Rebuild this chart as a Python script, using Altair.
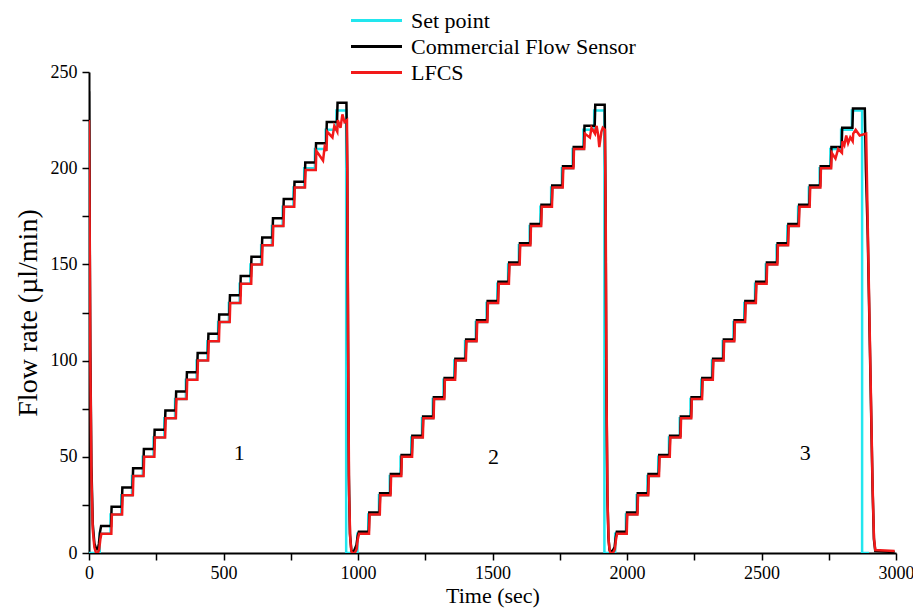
import altair as alt
import pandas as pd

# ---------------- data ----------------
SERIES = ["Set point", "Commercial Flow Sensor", "LFCS"]
COLORS = ["#22e6ee", "#000000", "#f21a1a"]

# start time of each setpoint step inside a cycle (s)
STEP_OFFSETS = [0, 40, 80, 120, 160, 200, 240, 280, 320, 360, 400, 440,
                480, 520, 560, 600, 640, 680, 720, 760, 800, 840, 880, 920]
CYCLE_STARTS = [0, 958, 1916]
CYCLE_DROPS = [956, 1916, 2874]

SET_LEVELS = [0, 10, 20, 30, 40, 50, 60, 70, 80, 90, 100, 110,
              120, 130, 140, 150, 160, 170, 180, 190, 200, 210, 220, 230]

# Commercial flow sensor level on each step, per cycle
CFS_C1 = [0, 14, 24, 34, 44, 54, 64, 74, 84, 94, 104, 114,
          124, 134, 144, 154, 164, 174, 184, 193, 203, 213, 224, 234]
CFS_C2 = [0, 11, 21, 31, 41, 51, 61, 71, 81, 91, 101, 111,
          121, 131, 141, 151, 161, 171, 181, 191, 201, 211, 222, 233]
CFS_C3 = [0, 11, 21, 31, 41, 51, 61, 71, 81, 91, 101, 111,
          121, 131, 141, 151, 161, 171, 181, 191, 201, 211, 221, 231]

# LFCS level on each step, per cycle
LFCS_C1 = [0, 10, 20, 30, 40, 50, 60, 70, 80, 90, 100, 110,
           120, 130, 140, 150, 160, 170, 180, 190, 199, 209, 219, 225]
LFCS_C2 = [0, 10, 20, 30, 40, 50, 60, 70, 80, 90, 100, 110,
           120, 130, 140, 150, 160, 170, 180, 190, 200, 210, 218, 220]
LFCS_C3 = [0, 10, 20, 30, 40, 50, 60, 70, 80, 90, 100, 110,
           120, 130, 140, 150, 160, 170, 180, 190, 200, 208, 214, 218]

# transient at the start of each cycle (until the first step is reached)
CFS_HEAD_T = [[0, 2, 5, 9, 14, 20, 27, 33, 37, 41, 45],
              [976, 985, 994, 999, 1003],
              [1938, 1946, 1954, 1958, 1962]]
CFS_HEAD_V = [[240, 185, 105, 45, 15, 5, 2, 2, 5, 11, 14],
              [1, 1, 4, 9, 11],
              [1, 1, 3, 8, 11]]
LFCS_HEAD_T = [[0, 2, 5, 9, 14, 20, 26, 33, 38, 42, 46],
               [978, 988, 995, 999, 1004],
               [1938, 1948, 1955, 1959, 1963]]
LFCS_HEAD_V = [[225, 180, 100, 40, 12, 3, 0, 0, 2, 7, 10],
               [0, 0, 2, 7, 10],
               [0, 0, 2, 7, 10]]

# fall at the end of each cycle
CFS_TAIL_T = [[957, 960, 963, 966, 970, 975],
              [1917, 1920, 1923, 1927, 1931, 1935],
              [2884, 2888, 2895, 2905, 2913, 2918, 2923, 2995]]
CFS_TAIL_V = [[234, 200, 110, 40, 10, 2],
              [233, 185, 95, 30, 8, 1.5],
              [231, 200, 165, 92, 33, 7, 1, 0.5]]
LFCS_TAIL_T = [[959, 961, 964, 967, 971, 975],
               [1918, 1921, 1924, 1928, 1932, 1936],
               [2889, 2895, 2905, 2913, 2918, 2923, 2995]]
LFCS_TAIL_V = [[225, 180, 90, 30, 8, 1],
               [220, 170, 80, 25, 6, 1],
               [218, 170, 95, 35, 8, 1.5, 1]]

# noisy LFCS readings near the top of each ramp
LFCS_NOISE_T = [870, 876, 905, 912, 935, 942, 950,
                1862, 1868, 1887, 1893, 1897, 1905, 1910,
                2775, 2785, 2808, 2815, 2822, 2830, 2850, 2865]
LFCS_NOISE_V = [204, 211, 216, 222, 221, 228, 224,
                216, 221, 222, 217, 211, 219, 221,
                205, 210, 212, 217, 213, 216, 220, 217]

CYCLE_LABELS = ["1", "2", "3"]
CYCLE_LABEL_T = [559, 1504, 2663]
CYCLE_LABEL_V = [52, 50, 52]

# ---------------- build tables ----------------
set_rows = []
for c, start in enumerate(CYCLE_STARTS):
    for off, lev in zip(STEP_OFFSETS, SET_LEVELS):
        set_rows.append((start + off, lev))
    set_rows.append((CYCLE_DROPS[c], 0))
set_rows.append((2900, 0))
set_df = pd.DataFrame(set_rows, columns=["t", "v"]).sort_values("t")
set_df["series"] = SERIES[0]


def sensor_table(levels, head_t, head_v, tail_t, tail_v, lag, rise,
                 extra_t=(), extra_v=()):
    rows = []
    for c, start in enumerate(CYCLE_STARTS):
        rows += list(zip(head_t[c], head_v[c]))
        lv = levels[c]
        for k in range(2, len(STEP_OFFSETS)):
            tk = start + STEP_OFFSETS[k] + lag
            rows.append((tk, lv[k - 1]))
            rows.append((tk + rise, lv[k]))
        rows += list(zip(tail_t[c], tail_v[c]))
    rows += list(zip(extra_t, extra_v))
    return pd.DataFrame(rows, columns=["t", "v"]).sort_values("t")


cfs_df = sensor_table([CFS_C1, CFS_C2, CFS_C3], CFS_HEAD_T, CFS_HEAD_V,
                      CFS_TAIL_T, CFS_TAIL_V, lag=2, rise=2)
cfs_df["series"] = SERIES[1]
lfcs_df = sensor_table([LFCS_C1, LFCS_C2, LFCS_C3], LFCS_HEAD_T, LFCS_HEAD_V,
                       LFCS_TAIL_T, LFCS_TAIL_V, lag=3, rise=2,
                       extra_t=LFCS_NOISE_T, extra_v=LFCS_NOISE_V)
lfcs_df["series"] = SERIES[2]

labels_df = pd.DataFrame({"t": CYCLE_LABEL_T, "v": CYCLE_LABEL_V,
                          "txt": CYCLE_LABELS})

# ---------------- chart ----------------
FONT = "Liberation Serif"

x_enc = alt.X("t:Q",
              scale=alt.Scale(domain=[0, 3000], nice=False, zero=False),
              axis=alt.Axis(title="Time (sec)",
                            values=list(range(0, 3001, 250)),
                            labelExpr="datum.value % 500 === 0 ? datum.label : ''",
                            format="d"))
y_enc = alt.Y("v:Q",
              scale=alt.Scale(domain=[0, 250], nice=False),
              axis=alt.Axis(title="Flow rate (µl/min)",
                            values=list(range(0, 251, 25)),
                            labelExpr="datum.value % 50 === 0 ? datum.label : ''",
                            format="d"))
color_enc = alt.Color("series:N",
                      scale=alt.Scale(domain=SERIES, range=COLORS),
                      legend=alt.Legend(title=None, orient="none",
                                        legendX=273, legendY=-66,
                                        symbolType="M-2,0H2", symbolSize=650,
                                        symbolStrokeWidth=3,
                                        labelFont=FONT, labelFontSize=22,
                                        labelColor="black", labelLimit=0,
                                        labelOffset=20, rowPadding=0,
                                        padding=0))

set_line = alt.Chart(set_df).mark_line(
    strokeWidth=2.5, interpolate="step-after", clip=True
).encode(x=x_enc, y=y_enc, color=color_enc)

cfs_line = alt.Chart(cfs_df).mark_line(strokeWidth=2.5, clip=True).encode(
    x=x_enc, y=y_enc, color=color_enc)

lfcs_line = alt.Chart(lfcs_df).mark_line(strokeWidth=2.5, clip=True).encode(
    x=x_enc, y=y_enc, color=color_enc)

text = alt.Chart(labels_df).mark_text(
    font=FONT, fontSize=22, color="black"
).encode(x="t:Q", y="v:Q", text="txt:N")

chart = alt.layer(set_line, cfs_line, lfcs_line, text).properties(
    width=807, height=481,
    padding={"left": 81, "top": 64, "right": 17, "bottom": 58},
    autosize=alt.AutoSizeParams(type="none"),
).configure_view(stroke=None).configure_axis(
    grid=False, labelFlush=False,
    domainColor="black", domainWidth=2,
    tickColor="black", tickWidth=1.5, tickSize=7,
    labelFont=FONT, labelFontSize=18, labelColor="black",
    titleFont=FONT, titleFontWeight="normal", titleColor="black",
).configure_axisX(
    labelPadding=4, titleFontSize=22, titlePadding=3,
).configure_axisY(
    labelPadding=5, titleFontSize=28, titlePadding=8,
)

chart.save("out.html", embed_options={"renderer": "svg", "actions": False})
